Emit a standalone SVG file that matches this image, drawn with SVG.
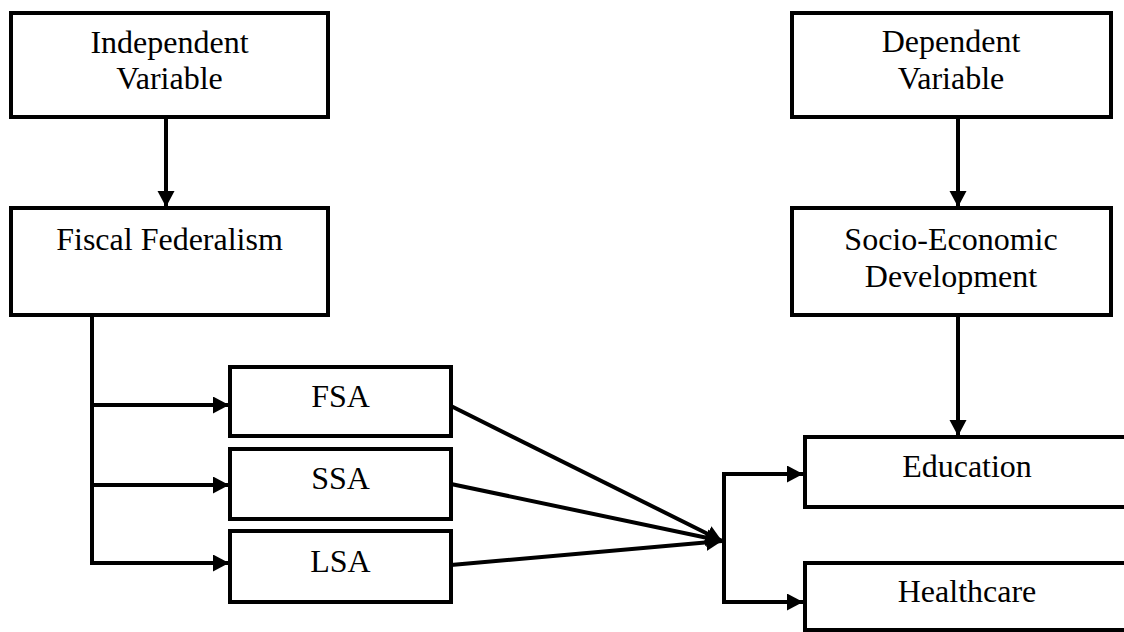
<svg xmlns="http://www.w3.org/2000/svg" width="1124" height="632" viewBox="0 0 1124 632">
<style>
.box{fill:#fff;stroke:#000;stroke-width:4}
.lbl{font-family:"Liberation Serif","Times New Roman",serif;font-size:32px;fill:#000;text-anchor:middle}
.con{fill:none;stroke:#000;stroke-width:4}
</style>
<defs>
<marker id="ah" markerUnits="userSpaceOnUse" markerWidth="18" markerHeight="18" refX="16" refY="8.5" orient="auto" viewBox="0 0 18 18">
<path d="M0,0 L16,8.5 L0,17 z" fill="#000"/>
</marker>
</defs>
<rect width="1124" height="632" fill="#fff"/>
<g id="connectors">
<line class="con" x1="166" y1="117" x2="166" y2="207" marker-end="url(#ah)"/>
<line class="con" x1="958" y1="117" x2="958" y2="207" marker-end="url(#ah)"/>
<polyline class="con" points="92,315 92,563 229,563" marker-end="url(#ah)"/>
<line class="con" x1="92" y1="405" x2="229" y2="405" marker-end="url(#ah)"/>
<line class="con" x1="92" y1="485" x2="229" y2="485" marker-end="url(#ah)"/>
<line class="con" x1="451" y1="406" x2="722" y2="541" marker-end="url(#ah)"/>
<line class="con" x1="451" y1="484" x2="722" y2="541" marker-end="url(#ah)"/>
<line class="con" x1="451" y1="565" x2="722" y2="541" marker-end="url(#ah)"/>
<polyline class="con" points="803,474 724,474 724,602 803,602" marker-end="url(#ah)"/>
<line class="con" x1="724" y1="474" x2="803" y2="474" marker-end="url(#ah)"/>
<line class="con" x1="958" y1="315" x2="958" y2="436" marker-end="url(#ah)"/>
</g>
<g id="independent">
<rect class="box" x="11" y="13" width="317" height="104"/>
<text class="lbl" x="169.5" y="53">Independent</text>
<text class="lbl" x="169.5" y="89">Variable</text>
</g>
<g id="fiscal">
<rect class="box" x="11" y="208" width="317" height="107"/>
<text class="lbl" x="169.5" y="250">Fiscal Federalism</text>
</g>
<g id="dependent">
<rect class="box" x="792" y="13" width="319" height="104"/>
<text class="lbl" x="951" y="52">Dependent</text>
<text class="lbl" x="951" y="89">Variable</text>
</g>
<g id="socio">
<rect class="box" x="792" y="208" width="319" height="107"/>
<text class="lbl" x="951" y="250">Socio-Economic</text>
<text class="lbl" x="951" y="287">Development</text>
</g>
<g id="fsa">
<rect class="box" x="230" y="367" width="221" height="69"/>
<text class="lbl" x="340.5" y="407">FSA</text>
</g>
<g id="ssa">
<rect class="box" x="230" y="449" width="221" height="70"/>
<text class="lbl" x="340.5" y="489">SSA</text>
</g>
<g id="lsa">
<rect class="box" x="230" y="531" width="221" height="71"/>
<text class="lbl" x="340.5" y="572">LSA</text>
</g>
<g id="education">
<rect class="box" x="805" y="437" width="330" height="70"/>
<text class="lbl" x="967" y="477">Education</text>
</g>
<g id="healthcare">
<rect class="box" x="805" y="563" width="330" height="67"/>
<text class="lbl" x="967" y="602">Healthcare</text>
</g>
</svg>
